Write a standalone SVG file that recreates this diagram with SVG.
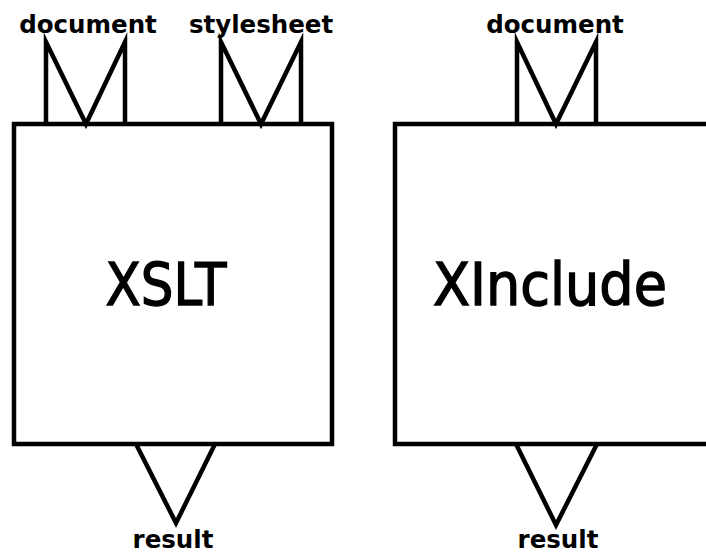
<svg xmlns="http://www.w3.org/2000/svg" width="706" height="554" viewBox="0 0 706 554">
<style>
.box{fill:#fff;stroke:#000;stroke-width:4.5}
.port{fill:none;stroke:#000;stroke-width:4.5;stroke-linejoin:miter;stroke-miterlimit:10}
.lbl{font-family:"DejaVu Sans",Verdana,sans-serif;font-weight:bold;font-size:24.5px;text-anchor:middle;fill:#000}
.big{font-family:"DejaVu Sans",Verdana,sans-serif;font-size:58px;text-anchor:middle;fill:#000;stroke:#000;stroke-width:1.4}
</style>
<rect width="706" height="554" fill="#fff"/>
<g id="xslt">
<rect class="box" x="14" y="124" width="318" height="320"/>
<text class="big" x="166" y="305" textLength="121" lengthAdjust="spacingAndGlyphs">XSLT</text>
</g>
<g id="xinclude">
<rect class="box" x="395" y="124" width="330" height="320"/>
<text class="big" x="550" y="305" textLength="234" lengthAdjust="spacingAndGlyphs">XInclude</text>
</g>
<g id="connectors">
<path class="port" d="M46,124 L46,42 L86,124 L125,42 L125,124"/>
<path class="port" d="M221,124 L221,42 L261,124 L301,42 L301,124"/>
<path class="port" d="M517,124 L517,42 L556,124 L596,42 L596,124"/>
<path class="port" d="M136,444 L176,523 L215,444"/>
<path class="port" d="M516,444 L556,525 L597,444"/>
</g>
<g id="labels">
<text class="lbl" x="88" y="33">document</text>
<text class="lbl" x="261" y="33">stylesheet</text>
<text class="lbl" x="555" y="33">document</text>
<text class="lbl" x="173" y="548">result</text>
<text class="lbl" x="558" y="548">result</text>
</g>
</svg>
